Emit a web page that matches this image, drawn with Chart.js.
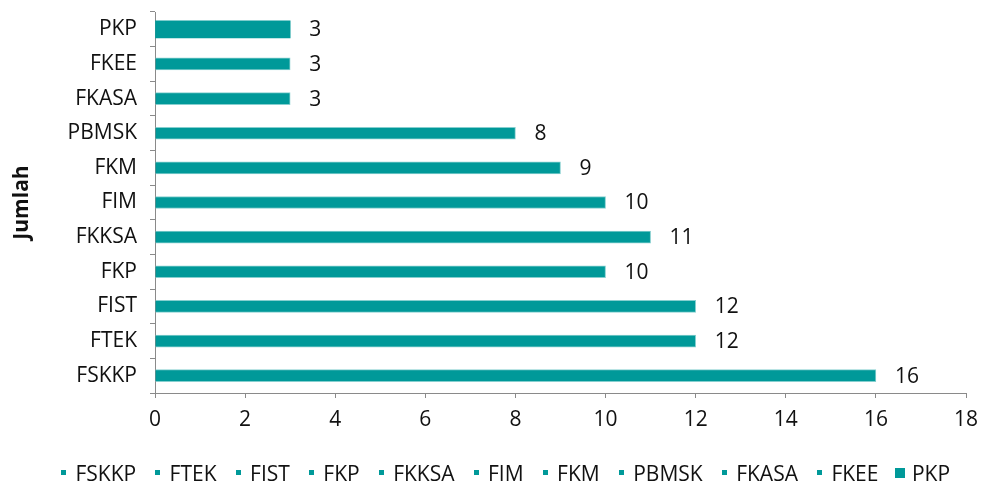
<!DOCTYPE html>
<html><head><meta charset="utf-8">
<script src="https://cdn.jsdelivr.net/npm/chart.js@4/dist/chart.umd.min.js"></script>
<style>html,body{margin:0;padding:0;background:#fff}#wrap{width:981px;height:487px}</style>
</head><body><div id="wrap"><canvas id="c" width="981" height="487"></canvas></div>
<script>
// ---- data ----
const categories = ['FSKKP','FTEK','FIST','FKP','FKKSA','FIM','FKM','PBMSK','FKASA','FKEE','PKP'];
const values = [16,12,12,10,11,10,9,8,3,3,3];
const xMin = 0, xMax = 18, xStep = 2;
const axisTitle = 'Jumlah';

// ---- styles ----
const TEAL = '#009999';
const FONT = '"Open Sans", "Noto Sans", sans-serif';
const FS = 21;
const AXIS = '#8a8a8a';
const TXT = '#111111';
const last = categories.length - 1;

function marker(size, h) {
  const c = document.createElement('canvas');
  c.width = size; c.height = h;
  const g = c.getContext('2d');
  g.fillStyle = TEAL; g.fillRect(0, 0, size, size);
  return c;
}
const markers = categories.map((_, i) => i === last ? marker(10, 15) : marker(5, 11));

const datasets = categories.map((name, i) => ({
  label: name,
  data: categories.map((_, j) => j === i ? values[i] : null),
  backgroundColor: TEAL,
  borderColor: i === last ? TEAL : '#86cfcf',
  borderWidth: i === last ? 0 : 1,
  barThickness: i === last ? 17 : 12,
  grouped: false
}));

const valueLabels = {
  id: 'valueLabels',
  afterDatasetsDraw(chart) {
    const ctx = chart.ctx;
    ctx.save();
    ctx.font = FS + 'px ' + FONT;
    ctx.fillStyle = TXT;
    ctx.textBaseline = 'middle';
    ctx.textAlign = 'left';
    chart.data.datasets.forEach((ds, i) => {
      chart.getDatasetMeta(i).data.forEach((el, j) => {
        const v = ds.data[j];
        if (v == null) return;
        ctx.fillText(String(v), el.x + 19, el.y + 1);
      });
    });
    ctx.restore();
  }
};

const legendShift = {
  id: 'legendShift',
  afterLayout(chart) {
    const d = 23;
    chart.legend.left += d; chart.legend.right += d;
  }
};

new Chart(document.getElementById('c'), {
  type: 'bar',
  data: { labels: categories, datasets },
  plugins: [valueLabels, legendShift],
  options: {
    indexAxis: 'y',
    responsive: false,
    animation: false,
    devicePixelRatio: 1,
    layout: { padding: { left: 0, right: 15, top: 12, bottom: -9 } },
    scales: {
      x: {
        min: xMin, max: xMax,
        ticks: { stepSize: xStep, color: TXT, font: { family: FONT, size: FS }, padding: 9 },
        grid: { drawOnChartArea: false, drawTicks: true, tickLength: 5, color: AXIS },
        border: { color: AXIS, width: 1 },
        afterFit(s) { s.height = 52; s.paddingLeft = 0; s.paddingRight = 0; }
      },
      y: {
        reverse: true,
        ticks: { color: TXT, font: { family: FONT, size: FS }, padding: 13 },
        grid: { offset: true, drawOnChartArea: false, drawTicks: true, tickLength: 5, color: AXIS },
        border: { color: AXIS, width: 1 },
        title: { display: true, text: axisTitle, color: TXT, font: { family: FONT, size: FS, weight: 'bold' }, padding: { top: 9, bottom: 0 } },
        afterFit(s) { s.width = 155; s.paddingTop = 0; s.paddingBottom = 0; }
      }
    },
    plugins: {
      tooltip: { enabled: false },
      legend: {
        position: 'bottom',
        labels: {
          usePointStyle: true,
          boxWidth: 3,
          pointStyleWidth: 3,
          padding: 20,
          color: TXT,
          font: { family: FONT, size: FS },
          generateLabels: (chart) => chart.data.datasets.map((ds, i) => ({
            text: ds.label, fillStyle: TEAL, strokeStyle: TEAL, lineWidth: 0,
            pointStyle: markers[i], hidden: false, datasetIndex: i, fontColor: TXT
          }))
        }
      }
    }
  }
});
</script></body></html>
